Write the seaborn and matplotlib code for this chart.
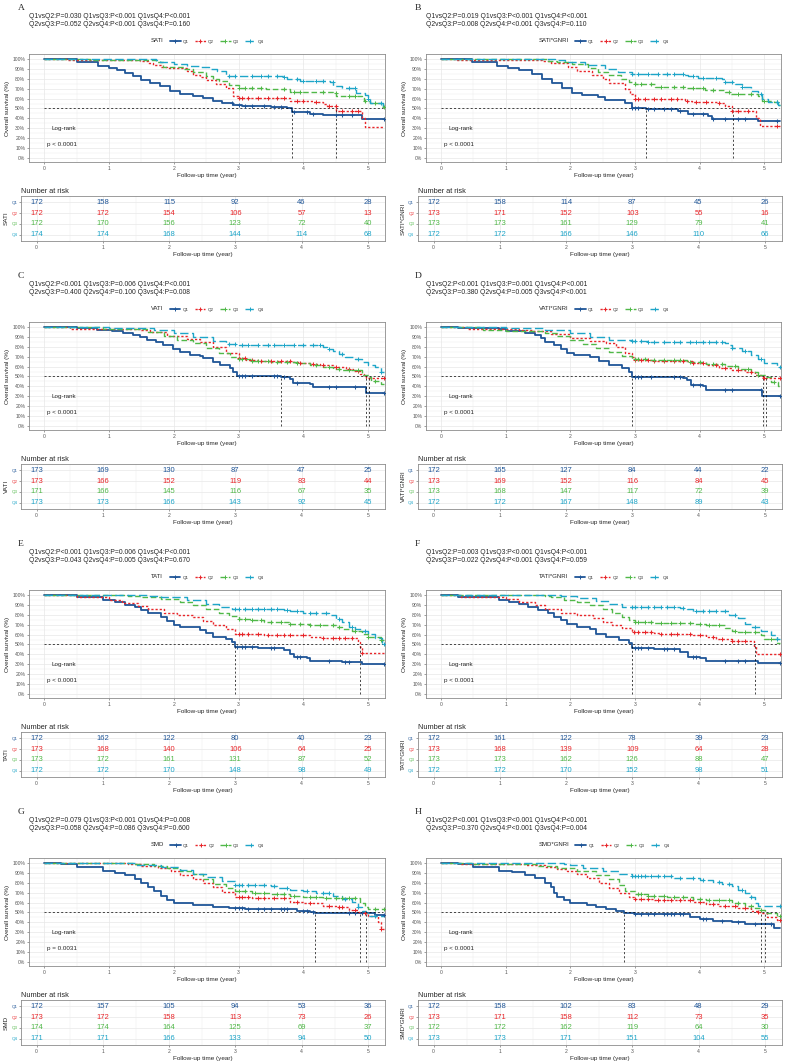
import matplotlib
matplotlib.use("Agg")
import matplotlib.pyplot as plt
from matplotlib.lines import Line2D
import numpy as np
import pandas as pd
import seaborn as sns

# groups / style
GROUPS = ["Q1", "Q2", "Q3", "Q4"]
COLORS = {"Q1": "#1f5597", "Q2": "#e8262a", "Q3": "#50b848", "Q4": "#1ea5c8"}
DASHES = {"Q1": "-", "Q2": (0, (1.6, 1.4)), "Q3": (0, (4, 2)), "Q4": (0, (6, 2.5))}
WIDTHS = {"Q1": 1.3, "Q2": 1.0, "Q3": 1.0, "Q4": 1.0}

LETTERS = ["A", "B", "C", "D", "E", "F", "G", "H"]
VARIABLES = ["SATI", "SATI*GNRI", "VATI", "VATI*GNRI", "TATI", "TATI*GNRI", "SMD", "SMD*GNRI"]
PVAL_LINE1 = [
    "Q1vsQ2:P=0.030 Q1vsQ3:P<0.001 Q1vsQ4:P<0.001",
    "Q1vsQ2:P=0.019 Q1vsQ3:P<0.001 Q1vsQ4:P<0.001",
    "Q1vsQ2:P<0.001 Q1vsQ3:P=0.006 Q1vsQ4:P<0.001",
    "Q1vsQ2:P<0.001 Q1vsQ3:P=0.001 Q1vsQ4:P<0.001",
    "Q1vsQ2:P<0.001 Q1vsQ3:P=0.006 Q1vsQ4:P<0.001",
    "Q1vsQ2:P=0.003 Q1vsQ3:P<0.001 Q1vsQ4:P<0.001",
    "Q1vsQ2:P=0.079 Q1vsQ3:P<0.001 Q1vsQ4:P=0.008",
    "Q1vsQ2:P<0.001 Q1vsQ3:P<0.001 Q1vsQ4:P<0.001",
]
PVAL_LINE2 = [
    "Q2vsQ3:P=0.052 Q2vsQ4:P<0.001 Q3vsQ4:P=0.160",
    "Q2vsQ3:P=0.008 Q2vsQ4:P<0.001 Q3vsQ4:P=0.110",
    "Q2vsQ3:P=0.400 Q2vsQ4:P=0.100 Q3vsQ4:P=0.008",
    "Q2vsQ3:P=0.380 Q2vsQ4:P=0.005 Q3vsQ4:P<0.001",
    "Q2vsQ3:P=0.043 Q2vsQ4:P=0.005 Q3vsQ4:P=0.670",
    "Q2vsQ3:P=0.022 Q2vsQ4:P<0.001 Q3vsQ4:P=0.059",
    "Q2vsQ3:P=0.058 Q2vsQ4:P=0.086 Q3vsQ4:P=0.600",
    "Q2vsQ3:P=0.370 Q2vsQ4:P<0.001 Q3vsQ4:P=0.004",
]
LOGRANK_P = ["p < 0.0001"] * 6 + ["p = 0.0031", "p < 0.0001"]
MEDIANS = [[3.82, 4.51], [3.17, 4.51], [3.66, 4.97, 5.02], [2.96, 4.98, 5.03],
           [2.95, 4.87], [2.96, 4.86], [4.18, 4.87, 4.97], [2.83, 4.95, 5.02]]

RISK_TIMES = [0, 1, 2, 3, 4, 5]
A_RISK = [[172, 158, 115, 92, 46, 28], [172, 172, 154, 106, 57, 13], [172, 170, 156, 123, 72, 40], [174, 174, 168, 144, 114, 68]]
B_RISK = [[172, 158, 114, 87, 45, 26], [173, 171, 152, 103, 55, 16], [173, 173, 161, 129, 79, 41], [172, 172, 166, 146, 110, 66]]
C_RISK = [[173, 169, 130, 87, 47, 25], [173, 166, 152, 119, 83, 44], [171, 166, 145, 116, 67, 35], [173, 173, 166, 143, 92, 45]]
D_RISK = [[172, 165, 127, 84, 44, 22], [173, 169, 152, 116, 84, 45], [173, 168, 147, 117, 72, 39], [172, 172, 167, 148, 89, 43]]
E_RISK = [[172, 162, 122, 80, 40, 23], [173, 168, 140, 106, 64, 25], [173, 172, 161, 131, 87, 52], [172, 172, 170, 148, 98, 49]]
F_RISK = [[172, 161, 122, 78, 39, 23], [173, 168, 139, 109, 64, 28], [173, 173, 162, 126, 88, 47], [172, 172, 170, 152, 98, 51]]
G_RISK = [[172, 157, 105, 94, 53, 36], [173, 172, 158, 113, 73, 26], [174, 174, 164, 125, 69, 37], [171, 171, 166, 133, 94, 50]]
H_RISK = [[172, 158, 102, 83, 48, 29], [173, 171, 158, 112, 73, 35], [172, 172, 162, 119, 64, 30], [173, 173, 171, 151, 104, 55]]

# survival steps: (time in years, survival %)
A_Q1 = [(0, 100), (0.5, 97), (0.83, 93), (1.0, 91), (1.12, 89), (1.25, 86), (1.37, 83), (1.5, 79), (1.63, 76), (1.78, 73),
        (1.94, 68), (2.09, 65), (2.3, 63), (2.45, 61), (2.6, 58), (2.75, 56), (2.92, 54), (3.05, 53), (3.5, 52), (3.74, 51),
        (3.82, 46), (4.1, 44), (4.3, 43), (4.9, 39), (5.25, 39)]
A_Q2 = [(0, 100), (0.35, 99), (1.48, 98), (1.6, 96), (1.68, 94), (1.8, 92), (1.9, 91), (2.2, 88), (2.3, 84), (2.4, 82),
        (2.5, 79), (2.65, 75), (2.8, 71), (2.92, 63), (3.0, 61), (3.8, 58), (4.15, 57), (4.3, 55), (4.36, 53), (4.51, 47),
        (4.9, 40), (4.95, 31), (5.25, 31)]
A_Q3 = [(0, 100), (0.7, 99), (1.73, 97), (1.84, 92), (2.15, 90), (2.3, 87), (2.5, 83), (2.6, 80), (2.7, 78), (2.85, 74),
        (3.0, 71), (3.43, 70), (3.8, 67), (4.46, 66), (4.51, 63), (4.9, 62), (4.93, 58), (5.03, 56), (5.23, 52), (5.25, 52)]
A_Q4 = [(0, 100), (1.73, 99), (1.79, 97), (2.0, 95), (2.2, 93), (2.4, 92), (2.55, 90), (2.66, 88), (2.81, 83), (3.69, 82),
        (3.75, 80), (3.95, 78), (4.41, 77), (4.46, 73), (4.6, 71), (4.82, 66), (4.95, 64), (5.0, 60), (5.03, 56), (5.23, 52),
        (5.25, 52)]
A_Q1_CENS = [2.9, 3.0, 3.1, 3.2, 3.4, 3.55, 3.65, 3.85, 4.05, 4.15, 4.5, 4.6, 4.75, 5.25]
A_Q2_CENS = [3.0, 3.05, 3.15, 3.3, 3.45, 3.6, 3.7, 3.9, 4.0, 4.2, 4.4, 4.5, 4.6, 4.75, 4.85]
A_Q3_CENS = [3.0, 3.1, 3.2, 3.35, 3.7, 3.85, 3.95, 4.3, 4.5, 4.7, 4.8, 4.95, 5.1, 5.25]
A_Q4_CENS = [2.85, 2.95, 3.2, 3.35, 3.45, 3.6, 3.7, 3.9, 4.0, 4.2, 4.3, 4.45, 4.7, 4.8, 5.0, 5.2]

B_Q1 = [(0, 100), (0.47, 97), (0.86, 93), (1.04, 91), (1.2, 89), (1.4, 85), (1.56, 80), (1.71, 76), (1.87, 71), (2.02, 66),
        (2.18, 64), (2.43, 62), (2.54, 59), (2.85, 56), (2.95, 51), (3.17, 49.5), (3.4, 49), (3.67, 47), (3.82, 44),
        (4.13, 42), (4.19, 39), (4.9, 37), (5.24, 37)]
B_Q2 = [(0, 100), (0.24, 99), (1.56, 98), (1.7, 96), (1.97, 92), (2.1, 88), (2.33, 84), (2.5, 80), (2.6, 76), (2.85, 70),
        (2.92, 65), (3.0, 60), (3.77, 58), (3.88, 57), (4.3, 56), (4.39, 53), (4.5, 47), (4.88, 40), (4.93, 32), (5.24, 32)]
B_Q3 = [(0, 100), (1.66, 98), (1.8, 97), (2.03, 95), (2.27, 91), (2.43, 87), (2.58, 84), (2.79, 80), (2.9, 77), (3.0, 75),
        (3.31, 72), (3.77, 71), (4.08, 69), (4.39, 67), (4.49, 65), (4.9, 63), (4.96, 58), (5.15, 57), (5.22, 54), (5.24, 54)]
B_Q4 = [(0, 100), (1.76, 99), (1.92, 97), (2.23, 94), (2.54, 90), (2.74, 87), (2.95, 85), (3.77, 84), (3.82, 83), (3.98, 81),
        (4.35, 80), (4.39, 77), (4.55, 75), (4.65, 72), (4.8, 68), (4.9, 65), (4.96, 60), (5.06, 57), (5.22, 54), (5.24, 54)]
B_Q1_CENS = [2.95, 3.0, 3.05, 3.2, 3.3, 3.45, 3.55, 3.7, 3.9, 4.05, 4.2, 4.4, 4.6, 4.7, 5.2]
B_Q2_CENS = [3.0, 3.05, 3.15, 3.3, 3.4, 3.55, 3.65, 3.8, 3.95, 4.1, 4.3, 4.5, 4.6, 4.75, 5.2]
B_Q3_CENS = [3.0, 3.1, 3.25, 3.4, 3.6, 3.75, 3.9, 4.05, 4.2, 4.45, 4.6, 4.8, 5.0, 5.2]
B_Q4_CENS = [2.95, 3.05, 3.2, 3.35, 3.5, 3.6, 3.75, 3.9, 4.05, 4.25, 4.4, 4.5, 4.65, 4.95, 5.2]

C_Q1 = [(0, 100), (0.5, 99), (0.81, 97), (1.05, 96), (1.22, 94), (1.37, 92), (1.48, 90), (1.58, 87), (1.73, 85), (1.84, 82),
        (1.99, 78), (2.09, 75), (2.25, 72), (2.4, 71), (2.45, 69), (2.61, 65), (2.71, 62), (2.87, 59), (2.92, 55), (2.97, 50),
        (3.66, 49), (3.79, 47), (3.84, 43), (4.1, 42), (4.15, 39), (4.97, 33), (5.25, 33)]
C_Q2 = [(0, 100), (0.4, 98), (1.5, 97), (1.63, 95), (1.89, 91), (2.2, 88), (2.4, 85), (2.6, 80), (2.81, 74), (3.0, 69),
        (3.12, 67), (3.3, 66), (3.84, 65), (3.95, 64), (4.1, 63), (4.25, 62), (4.46, 60), (4.66, 58), (4.77, 56), (4.87, 53),
        (4.94, 51), (4.97, 48), (5.25, 48)]
C_Q3 = [(0, 100), (0.9, 98), (1.6, 95), (1.85, 91), (2.05, 87), (2.3, 84), (2.5, 79), (2.7, 74), (2.87, 70), (3.0, 68),
        (3.2, 66), (3.5, 64.5), (3.9, 64), (4.1, 62), (4.3, 60), (4.45, 58), (4.6, 57), (4.9, 52), (5.02, 49), (5.05, 45),
        (5.2, 42), (5.25, 42)]
C_Q4 = [(0, 100), (1.0, 99), (1.7, 97), (2.0, 94), (2.3, 90), (2.6, 86), (2.8, 83), (3.0, 82), (4.3, 80), (4.36, 78),
        (4.45, 76), (4.55, 73), (4.65, 70), (4.8, 68), (4.9, 65), (5.0, 62), (5.1, 60), (5.2, 55), (5.25, 55)]
C_Q1_CENS = [3.0, 3.05, 3.1, 3.2, 3.55, 3.6, 3.7, 3.9, 4.4, 4.5, 4.8, 5.25]
C_Q2_CENS = [3.0, 3.1, 3.2, 3.35, 3.5, 3.65, 3.8, 3.95, 4.15, 4.3, 4.5, 4.7, 4.85, 5.25]
C_Q3_CENS = [3.0, 3.05, 3.2, 3.3, 3.45, 3.6, 3.75, 3.9, 4.2, 4.4, 4.55, 4.7, 4.85, 5.1]
C_Q4_CENS = [2.85, 2.95, 3.05, 3.15, 3.3, 3.45, 3.55, 3.7, 3.85, 4.0, 4.15, 4.25, 4.4, 4.6, 4.85, 5.2]

D_Q1 = [(0, 100), (0.26, 99), (0.9, 98), (1.0, 96), (1.3, 94), (1.45, 92), (1.55, 89), (1.6, 85), (1.75, 82), (1.85, 78),
        (1.95, 74), (2.05, 72), (2.3, 70), (2.45, 66), (2.6, 62), (2.8, 59), (2.9, 55), (2.96, 49), (3.75, 48), (3.8, 46),
        (3.87, 41), (4.05, 40), (4.1, 36), (4.97, 30), (5.25, 30)]
D_Q2 = [(0, 100), (0.4, 98), (1.2, 97), (1.4, 96), (1.7, 93), (2.0, 89), (2.3, 86), (2.55, 84), (2.7, 80), (2.85, 74),
        (2.95, 70), (3.0, 67), (3.3, 66), (3.9, 64), (4.1, 62), (4.3, 59), (4.5, 57), (4.7, 55), (4.85, 52), (4.95, 50.5),
        (4.98, 48), (5.25, 48)]
D_Q3 = [(0, 100), (0.65, 97), (1.0, 96), (1.6, 94), (1.8, 91), (2.0, 87), (2.2, 83), (2.4, 79), (2.6, 75), (2.8, 71),
        (2.95, 68), (3.2, 67), (3.8, 65), (4.1, 63), (4.4, 61), (4.6, 58), (4.8, 55), (4.9, 52), (5.03, 49), (5.1, 44),
        (5.22, 40), (5.25, 40)]
D_Q4 = [(0, 100), (1.0, 99), (1.6, 97), (2.0, 94), (2.3, 90), (2.6, 87), (2.95, 86), (3.2, 85), (4.4, 84), (4.45, 82),
        (4.5, 79), (4.65, 76), (4.8, 72), (4.9, 68), (5.0, 64), (5.2, 60), (5.25, 60)]
D_Q1_CENS = [3.0, 3.05, 3.1, 3.25, 3.6, 3.7, 3.9, 4.0, 4.4, 4.5, 4.95, 5.25]
D_Q2_CENS = [3.0, 3.1, 3.2, 3.3, 3.45, 3.6, 3.75, 3.9, 4.05, 4.25, 4.4, 4.6, 4.8, 5.0, 5.25]
D_Q3_CENS = [3.0, 3.05, 3.15, 3.3, 3.45, 3.6, 3.7, 3.85, 4.0, 4.2, 4.35, 4.55, 4.75, 4.9, 5.15]
D_Q4_CENS = [2.95, 3.0, 3.1, 3.2, 3.3, 3.45, 3.6, 3.7, 3.85, 3.95, 4.05, 4.15, 4.25, 4.35, 4.5, 4.7, 4.95, 5.25]

E_Q1 = [(0, 100), (0.5, 98), (0.9, 95), (1.1, 93), (1.25, 90), (1.4, 88), (1.5, 85), (1.6, 82), (1.8, 78), (1.9, 74),
        (2.0, 70), (2.1, 68), (2.4, 65), (2.5, 62), (2.6, 58), (2.8, 56), (2.9, 53), (2.95, 47), (3.3, 46), (3.7, 44),
        (3.8, 40), (3.85, 37), (4.05, 36), (4.1, 33), (4.6, 32), (4.9, 30), (5.25, 30)]
E_Q2 = [(0, 100), (0.5, 98), (1.0, 95), (1.2, 92), (1.45, 89), (1.6, 86), (1.85, 82), (2.05, 80), (2.3, 78), (2.45, 74),
        (2.6, 70), (2.8, 66), (2.95, 61), (3.4, 60), (4.1, 58), (4.3, 57), (4.84, 53), (4.87, 47), (4.9, 41), (5.25, 41)]
E_Q3 = [(0, 100), (1.3, 99), (1.5, 98), (1.8, 96), (2.1, 93), (2.3, 90), (2.5, 86), (2.7, 82), (2.85, 79), (3.0, 76),
        (3.2, 75), (3.4, 73), (3.8, 71), (4.1, 70), (4.5, 68), (4.6, 66), (4.75, 64), (4.9, 61), (5.0, 58), (5.2, 55),
        (5.25, 55)]
E_Q4 = [(0, 100), (1.6, 99), (1.8, 98), (2.2, 95), (2.5, 91), (2.7, 88), (2.9, 86), (3.7, 85), (3.8, 84), (4.0, 82),
        (4.4, 80), (4.5, 76), (4.6, 73), (4.7, 68), (4.8, 66), (4.9, 64), (5.0, 61), (5.1, 57), (5.22, 51), (5.25, 51)]
E_Q1_CENS = [2.98, 3.05, 3.1, 3.2, 3.5, 3.55, 3.9, 3.95, 4.4, 4.65, 4.7, 5.25]
E_Q2_CENS = [3.0, 3.05, 3.15, 3.3, 3.45, 3.6, 3.7, 3.8, 4.0, 4.3, 4.45, 4.55, 4.65, 4.75, 4.9]
E_Q3_CENS = [3.0, 3.1, 3.2, 3.35, 3.5, 3.65, 3.8, 3.95, 4.1, 4.25, 4.45, 4.55, 4.8, 5.0, 5.2]
E_Q4_CENS = [2.95, 3.0, 3.1, 3.2, 3.3, 3.4, 3.5, 3.6, 3.75, 3.9, 4.1, 4.2, 4.35, 4.55, 4.75, 4.95, 5.25]

F_Q1 = [(0, 100), (0.26, 98), (0.9, 95), (1.05, 93), (1.2, 91), (1.35, 88), (1.5, 85), (1.65, 82), (1.75, 78), (1.85, 75),
        (1.95, 71), (2.1, 68), (2.3, 66), (2.4, 61), (2.55, 58), (2.75, 55), (2.9, 52), (2.96, 46), (3.3, 45), (3.7, 42),
        (3.82, 37), (4.0, 36), (4.1, 33), (4.9, 31), (5.25, 31)]
F_Q2 = [(0, 100), (0.3, 98), (1.0, 96), (1.2, 93), (1.45, 90), (1.6, 86), (1.85, 82), (2.1, 80), (2.35, 77), (2.5, 73),
        (2.65, 70), (2.8, 67), (2.95, 63), (3.3, 62), (3.4, 61), (3.9, 60), (4.1, 58), (4.25, 56), (4.5, 54), (4.84, 48),
        (4.87, 40), (5.25, 40)]
F_Q3 = [(0, 100), (1.6, 99), (1.7, 98), (1.9, 95), (2.1, 93), (2.3, 90), (2.5, 86), (2.65, 82), (2.8, 78), (2.9, 75),
        (3.0, 73), (3.3, 72), (3.9, 71), (4.1, 70), (4.4, 67), (4.5, 64), (4.6, 63), (4.95, 60), (5.0, 56), (5.2, 52),
        (5.25, 52)]
F_Q4 = [(0, 100), (1.85, 99), (2.1, 97), (2.4, 94), (2.6, 91), (2.8, 88), (3.7, 87), (3.8, 86), (3.9, 84), (4.45, 80),
        (4.6, 77), (4.7, 71), (4.8, 68), (4.95, 64), (5.1, 60), (5.2, 56), (5.25, 56)]
F_Q1_CENS = [3.0, 3.05, 3.1, 3.2, 3.45, 3.5, 3.6, 3.9, 3.95, 4.4, 4.6, 4.7, 5.25]
F_Q2_CENS = [2.98, 3.05, 3.15, 3.25, 3.4, 3.55, 3.65, 3.85, 4.0, 4.2, 4.35, 4.5, 4.6, 4.7, 5.25]
F_Q3_CENS = [3.0, 3.05, 3.15, 3.25, 3.4, 3.55, 3.7, 3.85, 4.0, 4.15, 4.3, 4.55, 4.7, 4.85, 5.1]
F_Q4_CENS = [2.95, 3.0, 3.1, 3.2, 3.3, 3.4, 3.5, 3.6, 3.75, 3.95, 4.05, 4.15, 4.25, 4.4, 4.55, 4.85, 5.2]

G_Q1 = [(0, 100), (0.26, 99), (0.5, 96), (0.9, 92), (1.1, 90), (1.25, 88), (1.4, 84), (1.5, 80), (1.6, 76), (1.7, 72),
        (1.8, 67), (1.9, 63), (2.0, 60), (2.3, 58), (2.6, 56), (2.85, 55), (3.1, 54), (3.9, 52), (4.1, 51), (4.18, 49),
        (5.1, 47), (5.25, 47)]
G_Q2 = [(0, 100), (1.3, 99), (1.5, 97), (1.75, 95), (1.95, 92), (2.1, 88), (2.3, 84), (2.45, 80), (2.6, 76), (2.75, 71),
        (2.95, 66), (3.2, 65), (3.8, 61), (4.0, 60), (4.3, 57), (4.5, 56), (4.7, 53), (4.85, 50.5), (4.87, 49), (5.0, 46),
        (5.15, 40), (5.2, 33), (5.25, 33)]
G_Q3 = [(0, 100), (1.4, 99), (1.7, 97), (1.9, 95), (2.1, 92), (2.3, 89), (2.45, 84), (2.6, 79), (2.8, 75), (2.95, 72),
        (3.2, 70), (3.5, 69), (3.8, 67), (4.0, 66), (4.3, 65), (4.88, 60), (4.95, 56), (5.0, 54), (5.25, 54)]
G_Q4 = [(0, 100), (1.4, 98), (1.8, 96), (2.1, 93), (2.3, 89), (2.5, 86), (2.75, 82), (2.95, 78), (3.5, 77), (3.6, 75),
        (3.8, 73), (4.0, 72), (4.2, 70), (4.45, 67), (4.6, 64), (4.75, 61), (4.85, 56), (4.9, 52), (4.97, 49), (5.0, 46),
        (5.25, 46)]
G_Q1_CENS = [2.95, 3.0, 3.05, 3.15, 3.3, 3.4, 3.5, 3.65, 3.7, 3.75, 4.0, 4.05, 4.15, 4.7, 4.8, 4.9, 5.25]
G_Q2_CENS = [3.0, 3.05, 3.15, 3.3, 3.4, 3.55, 3.7, 3.9, 4.1, 4.4, 4.55, 4.6, 4.8, 4.95, 5.2]
G_Q3_CENS = [3.0, 3.1, 3.25, 3.4, 3.6, 3.7, 3.85, 4.1, 4.2, 4.35, 4.5, 4.6, 4.7, 4.8, 5.1, 5.25]
G_Q4_CENS = [2.95, 3.0, 3.05, 3.15, 3.25, 3.4, 3.55, 3.75, 4.05, 4.3, 4.4, 4.65, 4.85, 5.1]

H_Q1 = [(0, 100), (0.26, 99), (0.5, 96), (0.9, 92), (1.1, 91), (1.3, 88), (1.45, 85), (1.6, 80), (1.7, 76), (1.75, 70),
        (1.8, 66), (1.9, 63), (2.0, 60), (2.25, 58), (2.4, 56), (2.55, 54), (2.7, 52), (2.83, 49.5), (3.0, 48), (3.85, 45),
        (4.0, 43), (4.2, 41), (4.5, 40), (4.7, 38), (5.15, 34), (5.25, 34)]
H_Q2 = [(0, 100), (0.3, 99), (1.3, 98), (1.6, 96), (1.8, 94), (1.95, 92), (2.1, 89), (2.25, 85), (2.45, 80), (2.6, 75),
        (2.75, 70), (2.9, 66), (3.0, 64), (3.3, 63), (3.9, 61), (4.1, 59), (4.3, 57), (4.6, 55), (4.8, 52), (4.9, 50.5),
        (4.95, 49), (5.05, 45), (5.2, 42), (5.25, 42)]
H_Q3 = [(0, 100), (0.5, 99), (1.5, 97), (1.8, 95), (2.1, 92), (2.4, 88), (2.6, 84), (2.75, 78), (2.85, 72), (3.0, 69),
        (3.2, 67), (3.5, 66), (3.9, 64), (4.1, 63), (4.5, 60), (4.7, 57), (4.85, 55), (4.95, 53), (5.02, 49), (5.2, 46),
        (5.25, 46)]
H_Q4 = [(0, 100), (1.9, 99), (2.0, 98), (2.2, 95), (2.5, 92), (2.75, 89), (2.95, 87), (3.6, 85), (4.0, 83), (4.2, 81),
        (4.35, 79), (4.5, 77), (4.6, 73), (4.7, 70), (4.8, 66), (4.85, 60), (4.9, 57), (5.25, 57)]
H_Q1_CENS = [3.0, 3.1, 3.2, 3.3, 3.45, 3.5, 3.55, 3.6, 3.7, 3.75, 4.05, 4.1, 4.35, 4.6, 4.85, 5.1]
H_Q2_CENS = [3.0, 3.1, 3.2, 3.35, 3.45, 3.55, 3.7, 3.85, 4.0, 4.2, 4.4, 4.55, 4.7, 4.9, 5.25]
H_Q3_CENS = [3.05, 3.1, 3.2, 3.3, 3.45, 3.6, 3.75, 4.0, 4.15, 4.3, 4.45, 4.6, 4.8, 4.95, 5.25]
H_Q4_CENS = [2.95, 3.0, 3.05, 3.1, 3.15, 3.25, 3.35, 3.45, 3.55, 3.7, 3.9, 4.05, 4.3, 4.45, 4.65, 4.8, 5.25]

CURVES = [[A_Q1, A_Q2, A_Q3, A_Q4], [B_Q1, B_Q2, B_Q3, B_Q4], [C_Q1, C_Q2, C_Q3, C_Q4], [D_Q1, D_Q2, D_Q3, D_Q4],
          [E_Q1, E_Q2, E_Q3, E_Q4], [F_Q1, F_Q2, F_Q3, F_Q4], [G_Q1, G_Q2, G_Q3, G_Q4], [H_Q1, H_Q2, H_Q3, H_Q4]]
CENSORS = [[A_Q1_CENS, A_Q2_CENS, A_Q3_CENS, A_Q4_CENS], [B_Q1_CENS, B_Q2_CENS, B_Q3_CENS, B_Q4_CENS],
           [C_Q1_CENS, C_Q2_CENS, C_Q3_CENS, C_Q4_CENS], [D_Q1_CENS, D_Q2_CENS, D_Q3_CENS, D_Q4_CENS],
           [E_Q1_CENS, E_Q2_CENS, E_Q3_CENS, E_Q4_CENS], [F_Q1_CENS, F_Q2_CENS, F_Q3_CENS, F_Q4_CENS],
           [G_Q1_CENS, G_Q2_CENS, G_Q3_CENS, G_Q4_CENS], [H_Q1_CENS, H_Q2_CENS, H_Q3_CENS, H_Q4_CENS]]
RISKS = [A_RISK, B_RISK, C_RISK, D_RISK, E_RISK, F_RISK, G_RISK, H_RISK]

sns.set_theme(style="white")
plt.rcParams["font.family"] = ["Liberation Sans", "DejaVu Sans"]

W, H = 787, 1064
fig = plt.figure(figsize=(W / 100, H / 100), dpi=100)
fig.patch.set_facecolor("white")

KM_X = [(29, 385), (426, 781)]
TAB_X = [(21, 385), (418, 782)]
ROW_H = 268
XLIM = (-0.235, 5.26)
GRID = "#e8e8e8"
BORDER = "#8c8c8c"


def box(x0, top, x1, bottom):
    return [x0 / W, 1 - bottom / H, (x1 - x0) / W, (bottom - top) / H]


def surv_at(curve, t):
    s = curve[0][1]
    for ct, cs in curve:
        if ct <= t:
            s = cs
    return s


def style_axes(ax):
    for sp in ax.spines.values():
        sp.set_color(BORDER)
        sp.set_linewidth(0.6)
    ax.tick_params(axis="both", which="major", length=1.5, width=0.4, color="#555555",
                   labelcolor="#555555", labelsize=3.6, pad=1.2, left=True, bottom=True)
    ax.tick_params(which="minor", length=0)
    ax.grid(True, which="major", color=GRID, lw=0.5)
    ax.grid(True, which="minor", color=GRID, lw=0.3)
    ax.set_axisbelow(True)


for i in range(8):
    col, row = i % 2, i // 2
    y0 = ROW_H * row
    kx0, kx1 = KM_X[col]
    tx0, tx1 = TAB_X[col]

    # panel letter + pairwise p values
    fig.text((kx0 - 11) / W, 1 - (y0 + 8) / H, LETTERS[i], family="Liberation Serif",
             fontsize=6.8, va="center", ha="left")
    fig.text(kx0 / W, 1 - (y0 + 16) / H, PVAL_LINE1[i], fontsize=4.9, va="center", ha="left")
    fig.text(kx0 / W, 1 - (y0 + 24) / H, PVAL_LINE2[i], fontsize=4.9, va="center", ha="left")

    # survival curves
    ax = fig.add_axes(box(kx0, y0 + 54, kx1, y0 + 162))
    for g, curve, cens in zip(GROUPS, CURVES[i], CENSORS[i]):
        df = pd.DataFrame(curve, columns=["time", "surv"])
        sns.lineplot(data=df, x="time", y="surv", drawstyle="steps-post", estimator=None, sort=False,
                     color=COLORS[g], linestyle=DASHES[g], lw=WIDTHS[g], legend=False, ax=ax)
        cdf = pd.DataFrame({"time": cens, "surv": [surv_at(curve, t) for t in cens]})
        sns.scatterplot(data=cdf, x="time", y="surv", marker="+", s=11, linewidth=0.75,
                        color=COLORS[g], legend=False, ax=ax, zorder=3)

    med = MEDIANS[i]
    ax.plot([0, 5.23], [50, 50], color="black", ls=(0, (3, 3)), lw=0.5)
    for m in med:
        ax.plot([m, m], [0, 50], color="black", ls=(0, (3, 3)), lw=0.5)

    ax.text(0.11, 30, "Log-rank", fontsize=4.5, va="center", ha="left")
    ax.text(0.05, 14, LOGRANK_P[i], fontsize=4.5, va="center", ha="left")

    ax.set_xlim(*XLIM)
    ax.set_ylim(-4, 105)
    ax.set_xticks(range(6))
    ax.set_xticks(np.arange(0.5, 5.5, 1), minor=True)
    ax.set_yticks(range(0, 101, 10))
    ax.set_yticks(range(5, 100, 10), minor=True)
    ax.set_yticklabels([f"{v}%" for v in range(0, 101, 10)])
    ax.set_xlabel("Follow-up time (year)", fontsize=4.6, labelpad=1.5)
    ax.set_ylabel("Overall survival (%)", fontsize=4.6, labelpad=1.5)
    style_axes(ax)

    # legend
    handles = [Line2D([], [], lw=0)]
    for g in GROUPS:
        handles.append(Line2D([], [], color=COLORS[g], ls=DASHES[g], lw=WIDTHS[g], marker="+",
                              markersize=3, markeredgewidth=0.7))
    leg = fig.legend(handles, [VARIABLES[i]] + GROUPS, loc="center",
                     bbox_to_anchor=(((kx0 + kx1) / 2 - 6) / W, 1 - (y0 + 41) / H),
                     ncol=5, frameon=False, fontsize=3.2, handlelength=2.4, handletextpad=0.5,
                     columnspacing=1.4, borderpad=0)
    leg.get_texts()[0].set_fontsize(4.3)

    # number at risk table
    tab = fig.add_axes(box(tx0, y0 + 196, tx1, y0 + 241))
    for gi, g in enumerate(GROUPS):
        for t, n in zip(RISK_TIMES, RISKS[i][gi]):
            tab.text(t, 4 - gi, str(n), color=COLORS[g], fontsize=5.5, ha="center", va="center")
    tab.set_xlim(*XLIM)
    tab.set_ylim(0.45, 4.55)
    tab.set_xticks(range(6))
    tab.set_xticks(np.arange(0.5, 5.5, 1), minor=True)
    tab.set_yticks([4, 3, 2, 1])
    tab.set_yticklabels(GROUPS)
    style_axes(tab)
    for lab, g in zip(tab.get_yticklabels(), GROUPS):
        lab.set_color(COLORS[g])
        lab.set_fontsize(3.2)
    tab.set_xlabel("Follow-up time (year)", fontsize=4.6, labelpad=1.5)
    tab.set_ylabel(VARIABLES[i], fontsize=4.6, labelpad=1.5)
    tab.set_title("Number at risk", loc="left", fontsize=5.3, pad=2.5)

fig.savefig("out.png", dpi=100, facecolor="white")
